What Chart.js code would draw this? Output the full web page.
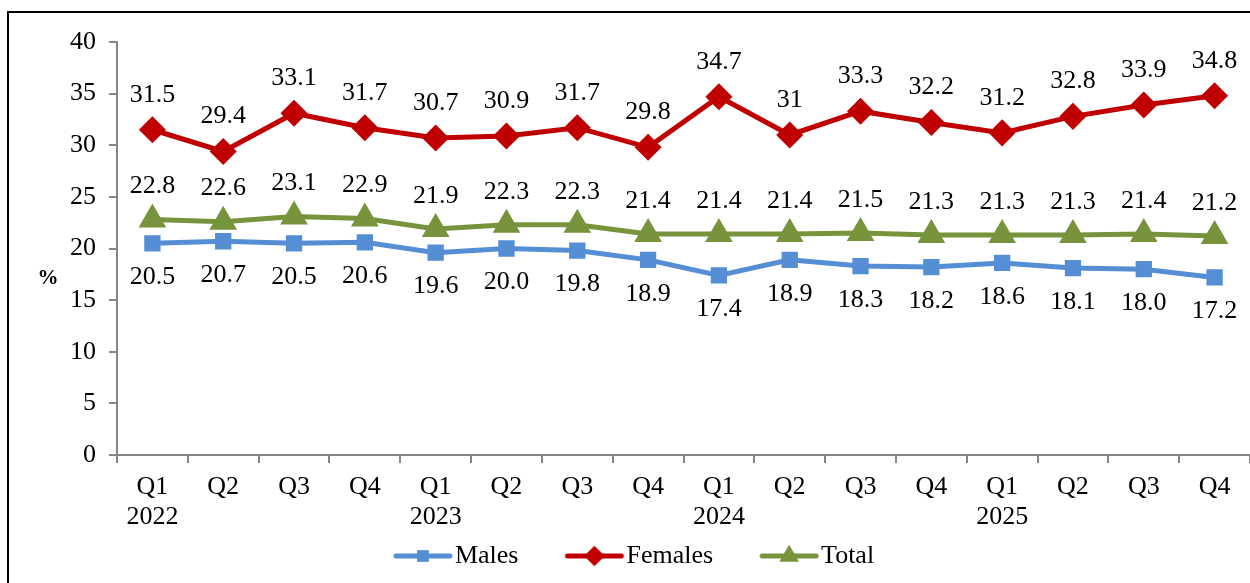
<!DOCTYPE html>
<html>
<head>
<meta charset="utf-8">
<script src="https://cdn.jsdelivr.net/npm/chart.js@4"></script>
<style>
  html, body { margin: 0; padding: 0; background: #fff; overflow: hidden; }
  #wrap { position: relative; width: 1250px; height: 583px; }
  #frame { position: absolute; left: 7px; top: 11px; width: 1300px; height: 640px; border: 2px solid #000; }
  canvas { position: absolute; left: 0; top: 0; }
</style>
</head>
<body>
<div id="wrap">
  <div id="frame"></div>
  <canvas id="chart" width="1250" height="583"></canvas>
</div>
<script>
const quarters = ["Q1", "Q2", "Q3", "Q4", "Q1", "Q2", "Q3", "Q4", "Q1", "Q2", "Q3", "Q4", "Q1", "Q2", "Q3", "Q4"];
const years = ["2022", "", "", "", "2023", "", "", "", "2024", "", "", "", "2025", "", "", ""];
const males = [20.5, 20.7, 20.5, 20.6, 19.6, 20.0, 19.8, 18.9, 17.4, 18.9, 18.3, 18.2, 18.6, 18.1, 18.0, 17.2];
const females = [31.5, 29.4, 33.1, 31.7, 30.7, 30.9, 31.7, 29.8, 34.7, 31, 33.3, 32.2, 31.2, 32.8, 33.9, 34.8];
const total = [22.8, 22.6, 23.1, 22.9, 21.9, 22.3, 22.3, 21.4, 21.4, 21.4, 21.5, 21.3, 21.3, 21.3, 21.4, 21.2];
const yTicks = [0, 5, 10, 15, 20, 25, 30, 35, 40];

const serif = "'Liberation Serif', 'Times New Roman', serif";
const axisGrey = '#868686';
const fontSize = 26;

const labels = quarters.map((q, i) => years[i] ? [q, years[i]] : q);

// line + marker image for the legend (wide canvas so the line sits close to the text)
function legendIcon(color, style, radius) {
    const c = document.createElement('canvas');
    c.width = 120;
    c.height = 24;
    const ctx = c.getContext('2d');
    ctx.strokeStyle = color;
    ctx.lineWidth = 5;
    ctx.lineCap = 'round';
    ctx.beginPath();
    ctx.moveTo(57, 12);
    ctx.lineTo(111, 12);
    ctx.stroke();
    ctx.fillStyle = color;
    Chart.helpers.drawPoint(ctx, { pointStyle: style, radius: radius, borderWidth: 0 }, 84, 12);
    ctx.fill();
    return c;
}

// draws the value labels and the "%" axis label
const valueLabels = {
    id: 'valueLabels',
    afterLayout(chart) {
        // the icons have empty space on their left, recentre the legend row
        if (chart.legend && chart.legend.lineWidths) chart.legend.lineWidths[0] += 20;
    },
    afterDatasetsDraw(chart) {
        const ctx = chart.ctx;
        ctx.save();
        ctx.font = fontSize + 'px ' + serif;
        ctx.fillStyle = '#000';
        ctx.textAlign = 'center';
        ctx.textBaseline = 'middle';
        chart.data.datasets.forEach((ds, di) => {
            const meta = chart.getDatasetMeta(di);
            meta.data.forEach((pt, i) => {
                ctx.fillText(ds.labelFmt(ds.data[i]), pt.x, pt.y + ds.labelOffset);
            });
        });
        ctx.font = 'bold 21px ' + serif;
        ctx.fillText('%', 48, 279);
        ctx.restore();
    }
};

new Chart(document.getElementById('chart'), {
    type: 'line',
    data: {
        labels: labels,
        datasets: [
            {
                label: 'Males',
                data: males,
                borderColor: '#558ED5',
                backgroundColor: '#558ED5',
                borderWidth: 5,
                pointStyle: 'rect',
                pointRadius: 8,
                labelOffset: 34,
                labelFmt: v => v.toFixed(1),
                icon: legendIcon('#558ED5', 'rect', 8)
            },
            {
                label: 'Females',
                data: females,
                borderColor: '#C00000',
                backgroundColor: '#C00000',
                borderWidth: 5,
                pointStyle: 'rectRot',
                pointRadius: 10,
                labelOffset: -35,
                labelFmt: v => String(v),
                icon: legendIcon('#C00000', 'rectRot', 10)
            },
            {
                label: 'Total',
                data: total,
                borderColor: '#77933C',
                backgroundColor: '#77933C',
                borderWidth: 5,
                pointStyle: 'triangle',
                pointRadius: 11,
                labelOffset: -33,
                labelFmt: v => v.toFixed(1),
                icon: legendIcon('#77933C', 'triangle', 11)
            }
        ]
    },
    options: {
        responsive: false,
        animation: false,
        layout: { autoPadding: false, padding: { top: 42, right: 0, left: 0, bottom: 4 } },
        plugins: {
            legend: {
                position: 'bottom',
                labels: {
                    font: { family: serif, size: fontSize },
                    color: '#000',
                    usePointStyle: true,
                    pointStyleWidth: 86,
                    padding: 9,
                    generateLabels: chart => chart.data.datasets.map((ds, i) => ({
                        text: ds.label,
                        fontColor: '#000',
                        pointStyle: ds.icon,
                        datasetIndex: i,
                        lineWidth: 0,
                        hidden: false
                    }))
                }
            },
            tooltip: { enabled: false }
        },
        scales: {
            x: {
                offset: true,
                grid: {
                    offset: true,
                    drawOnChartArea: false,
                    drawTicks: true,
                    tickLength: 8,
                    color: axisGrey,
                    lineWidth: 2
                },
                border: { color: axisGrey, width: 2 },
                ticks: {
                    font: { family: serif, size: fontSize, lineHeight: 1.15 },
                    color: '#000',
                    maxRotation: 0,
                    autoSkip: false,
                    padding: 9
                },
                afterFit: s => { s.height = 79; }
            },
            y: {
                min: 0,
                max: 40,
                afterBuildTicks: s => { s.ticks = yTicks.map(v => ({ value: v })); },
                grid: {
                    drawOnChartArea: false,
                    drawTicks: true,
                    tickLength: 8,
                    color: axisGrey,
                    lineWidth: 2
                },
                border: { color: axisGrey, width: 2 },
                ticks: {
                    font: { family: serif, size: fontSize },
                    color: '#000',
                    padding: 13
                },
                afterFit: s => { s.width = 117; }
            }
        }
    },
    plugins: [valueLabels]
});
</script>
</body>
</html>
